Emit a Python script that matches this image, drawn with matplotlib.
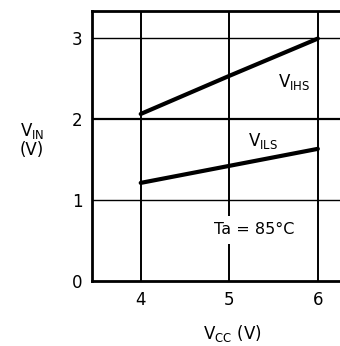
import matplotlib.pyplot as plt

plt.rcParams['font.family'] = ['DejaVu Sans']

vcc = [4, 5, 6]
vihs = [2.06, 2.53, 2.99]
vils = [1.21, 1.42, 1.63]
xticks = [4, 5, 6]
yticks = [0, 1, 2, 3]

fig = plt.figure(figsize=(3.4, 3.46), dpi=100)
ax = fig.add_axes([92/340, 65/346, 1 - 92/340, 270/346])

ax.set_xlim(3.45, 6.25)
ax.set_ylim(0, 3.33)

# grid
for x in xticks:
    ax.axvline(x, color='black', lw=1.4, zorder=1)
for y in yticks[1:]:
    ax.axhline(y, color='black', lw=1.6 if y == 2 else 1.0, zorder=1)

ax.plot(vcc, vihs, color='black', lw=3, solid_capstyle='round', zorder=3)
ax.plot(vcc, vils, color='black', lw=3, solid_capstyle='round', zorder=3)

ax.text(5.55, 2.46, r'V$_{\mathregular{IHS}}$', fontsize=12, va='center', ha='left')
ax.text(5.21, 1.73, r'V$_{\mathregular{ILS}}$', fontsize=12, va='center', ha='left')
ax.text(5.28, 0.63, 'Ta = 85°C', fontsize=11.5, va='center', ha='center',
        bbox=dict(facecolor='white', edgecolor='none', pad=5), zorder=4)

ax.set_xticks(xticks)
ax.set_yticks(yticks)
ax.tick_params(length=0, labelsize=12, pad=7)

for s in ['left', 'bottom', 'top']:
    ax.spines[s].set_linewidth(2)
ax.spines['right'].set_visible(False)

fig.text(32/340, 1 - 131/346, r'V$_{\mathregular{IN}}$', fontsize=12, ha='center', va='center')
fig.text(32/340, 1 - 150/346, '(V)', fontsize=12, ha='center', va='center')
fig.text(232/340, 1 - 333/346, r'V$_{\mathregular{CC}}$ (V)', fontsize=12, ha='center', va='center')

fig.savefig('out.png', dpi=100)
